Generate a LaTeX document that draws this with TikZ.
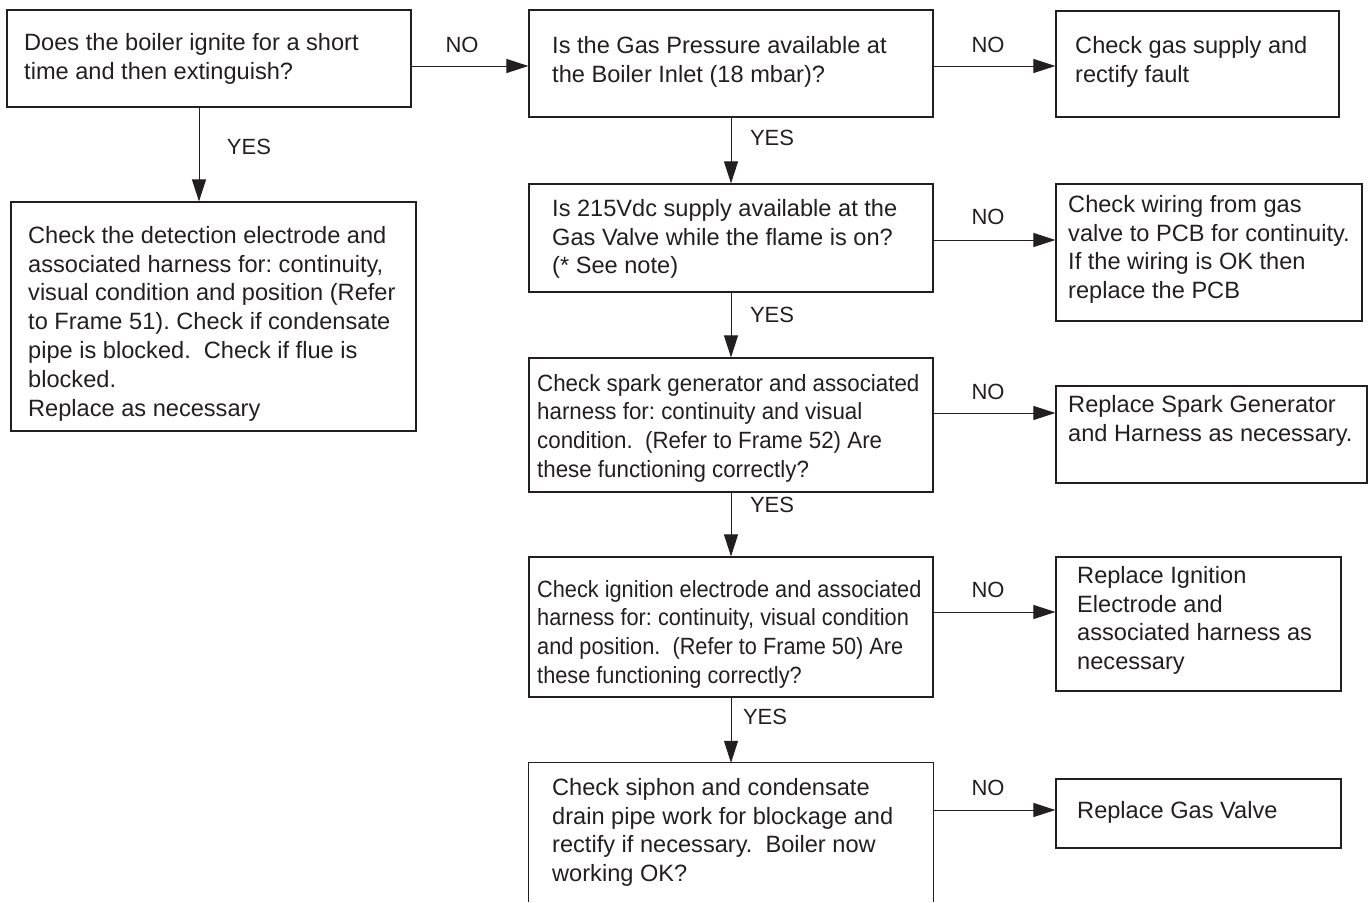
\documentclass[tikz,border=0pt]{standalone}
\usepackage{fontspec}
\setmainfont{Liberation Sans}
\newfontfamily\condfont[FakeStretch=0.95]{Liberation Sans}
\newfontfamily\condfontb[FakeStretch=0.925]{Liberation Sans}
\usetikzlibrary{arrows.meta}
\definecolor{ink}{RGB}{35,31,32}
\begin{document}
\frenchspacing
\begin{tikzpicture}[x=1pt,y=-1pt,
  box/.style={draw=ink, line width=1.2pt, rectangle, inner sep=0pt},
  openbox/.style={rectangle, inner sep=0pt},
  txt/.style={anchor=north west, inner sep=0pt, align=left, text=ink, font=\fontsize{23.6}{28.8}\selectfont\frenchspacing},
  ctxt/.style={txt, font=\condfont\fontsize{23.5}{28.6}\selectfont\frenchspacing},
  cbtxt/.style={txt, font=\condfontb\fontsize{23.5}{28.7}\selectfont\frenchspacing},
  lbl/.style={inner sep=0pt, text=ink, font=\fontsize{22}{26}\selectfont},
  arr/.style={draw=ink, line width=1pt, -{Triangle[length=22pt,width=14pt]}}]
\useasboundingbox (0,0) rectangle (1372,902);

% boxes
\node[box, minimum width=404pt, minimum height=97pt]  (A) at (209,58.5) {};
\node[box, minimum width=404pt, minimum height=107pt] (B) at (731,63.5) {};
\node[box, minimum width=283pt, minimum height=106pt] (C) at (1197.5,64) {};
\node[box, minimum width=405pt, minimum height=229pt] (D) at (213.5,316.5) {};
\node[box, minimum width=404pt, minimum height=108pt] (E) at (731,238) {};
\node[box, minimum width=404pt, minimum height=134pt] (F) at (731,425) {};
\node[box, minimum width=306pt, minimum height=137pt] (G) at (1209,252.5) {};
\node[box, minimum width=311pt, minimum height=97pt]  (H) at (1211.5,434.5) {};
\node[box, minimum width=404pt, minimum height=140pt] (I) at (731,627) {};
\node[box, minimum width=285pt, minimum height=134pt] (J) at (1198.5,624) {};
\node[openbox, minimum width=404pt, minimum height=139pt] (K) at (731,832.5) {};
\draw[ink, line width=1.2pt] (K.south west) -- (K.north west) -- (K.north east) -- (K.south east);
\node[box, minimum width=285pt, minimum height=69pt]  (L) at (1198.5,813.5) {};

% texts
\node[txt] (At) at (24,33) {Does the boiler ignite for a short\\time and then extinguish?};
\node[txt] (Bt) at (552,36) {Is the Gas Pressure available at\\the Boiler Inlet (18 mbar)?};
\node[txt] (Ct) at (1075,36) {Check gas supply and\\rectify fault};
\node[txt] (Dt) at (28,226) {Check the detection electrode and\\associated harness for: continuity,\\visual condition and position (Refer\\to Frame 51). Check if condensate\\pipe is blocked.\ \ Check if flue is\\blocked.\\Replace as necessary};
\node[txt] (Et) at (552,199) {Is 215Vdc supply available at the\\Gas Valve while the flame is on?\\(* See note)};
\node[ctxt] (Ft) at (537,374) {Check spark generator and associated\\harness for: continuity and visual\\condition.\ \ (Refer to Frame 52) Are\\these functioning correctly?};
\node[txt] (Gt) at (1068,195) {Check wiring from gas\\valve to PCB for continuity.\\If the wiring is OK then\\replace the PCB};
\node[txt] (Ht) at (1068,395) {Replace Spark Generator\\and Harness as necessary.};
\node[cbtxt] (It) at (537,580) {Check ignition electrode and associated\\harness for: continuity, visual condition\\and position.\ \ (Refer to Frame 50) Are\\these functioning correctly?};
\node[txt] (Jt) at (1077,566) {Replace Ignition\\Electrode and\\associated harness as\\necessary};
\node[txt] (Kt) at (552,778) {Check siphon and condensate\\drain pipe work for blockage and\\rectify if necessary.\ \ Boiler now\\working OK?};
\node[txt] (Lt) at (1077,801) {Replace Gas Valve};

% helper coordinates for connector rows/columns
\coordinate (yAB) at (0,66);
\coordinate (yBC) at (0,66);
\coordinate (yEG) at (0,240);
\coordinate (yFH) at (0,413);
\coordinate (yIJ) at (0,612);
\coordinate (yKL) at (0,810);
\coordinate (xAD) at (199,0);

% connectors
\draw[arr] (A.east |- yAB) -- (B.west |- yAB);
\draw[arr] (B.east |- yBC) -- (C.west |- yBC);
\draw[arr] (A.south -| xAD) -- (D.north -| xAD);
\draw[arr] (B.south) -- (E.north);
\draw[arr] (E.east |- yEG) -- (G.west |- yEG);
\draw[arr] (E.south) -- (F.north);
\draw[arr] (F.east |- yFH) -- (H.west |- yFH);
\draw[arr] (F.south) -- (I.north);
\draw[arr] (I.east |- yIJ) -- (J.west |- yIJ);
\draw[arr] (I.south) -- (K.north);
\draw[arr] (K.east |- yKL) -- (L.west |- yKL);

% labels
\node[lbl] (n1) at (462,45) {NO};
\node[lbl] (n2) at (988,45) {NO};
\node[lbl] (n3) at (988,217) {NO};
\node[lbl] (n4) at (988,392) {NO};
\node[lbl] (n5) at (988,590) {NO};
\node[lbl] (n6) at (988,788) {NO};
\node[lbl] (y1) at (249,147) {YES};
\node[lbl] (y2) at (772,138) {YES};
\node[lbl] (y3) at (772,315) {YES};
\node[lbl] (y4) at (772,505) {YES};
\node[lbl] (y5) at (765,717) {YES};
\end{tikzpicture}
\end{document}
